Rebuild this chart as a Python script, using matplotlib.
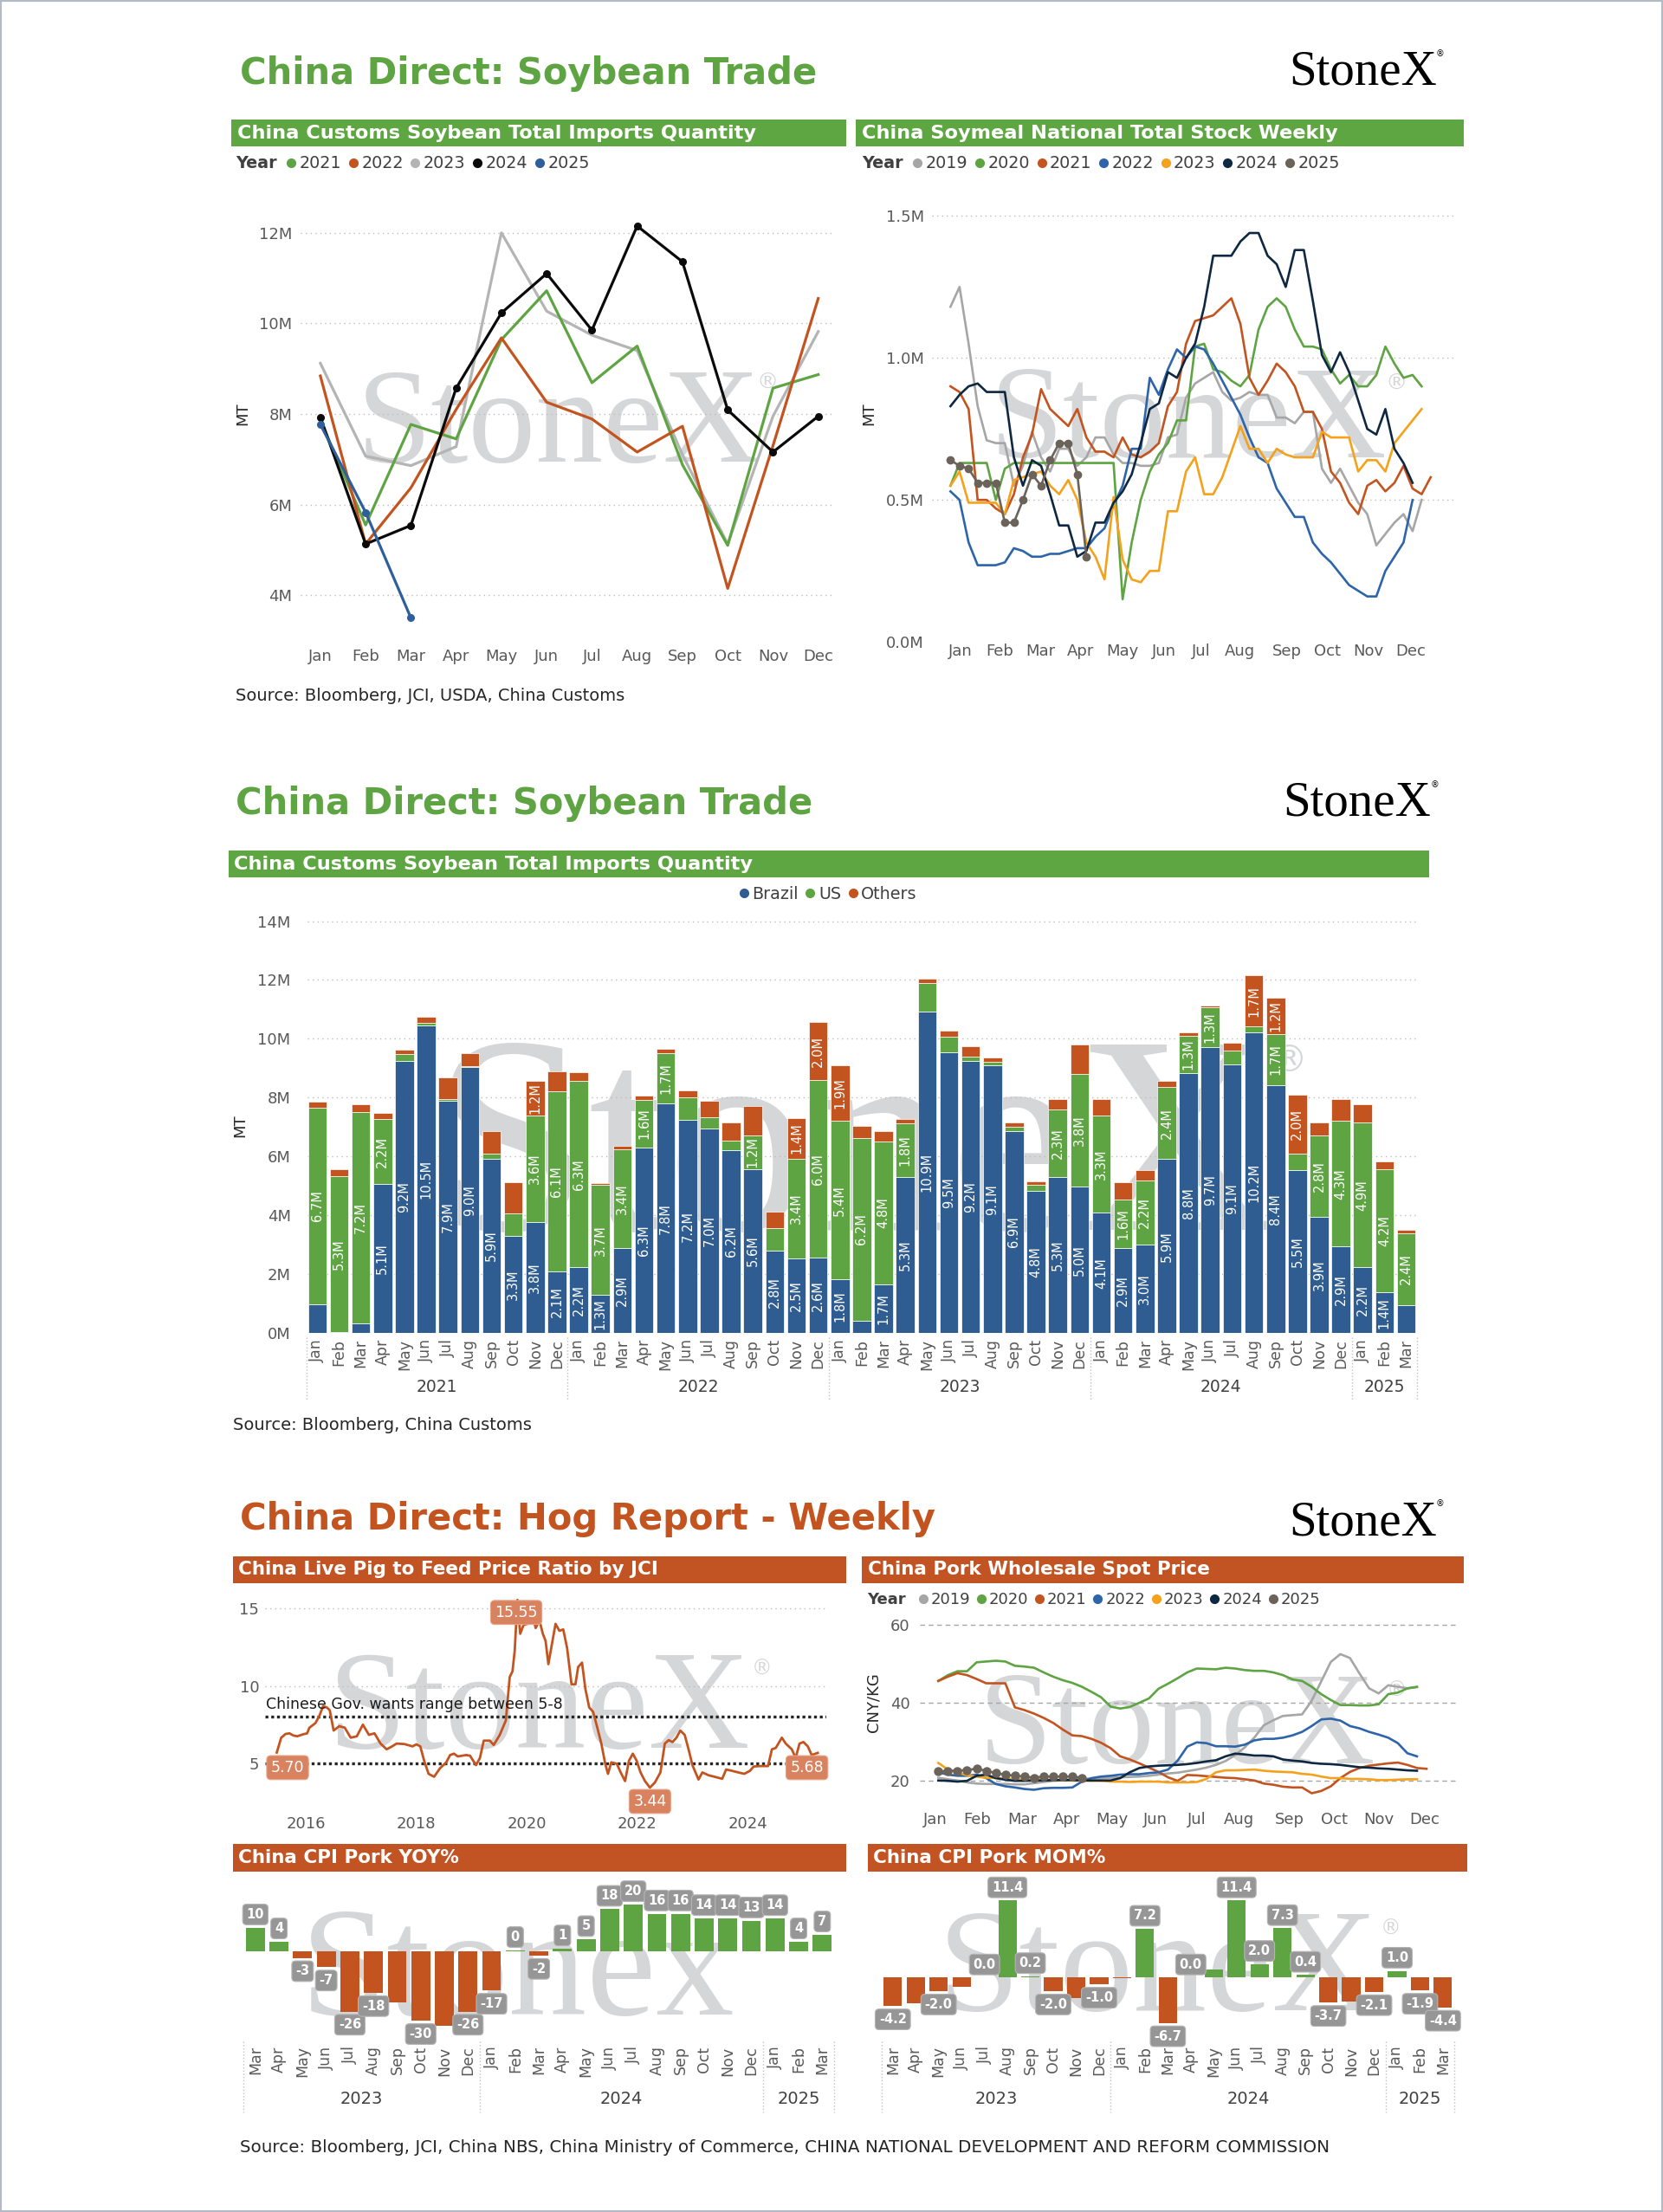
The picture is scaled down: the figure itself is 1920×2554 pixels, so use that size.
import numpy as np
import matplotlib
matplotlib.use('Agg')
import matplotlib.pyplot as plt
from matplotlib.lines import Line2D
from matplotlib.patches import Rectangle
from matplotlib.ticker import FuncFormatter
import matplotlib.transforms as mtrans

plt.rcParams['font.family'] = ['DejaVu Sans']

GREEN = '#5FA443'
ORANGE = '#C4541F'
HDR_GREEN = '#5EA641'
HDR_ORANGE = '#C25424'
BR_BLUE = '#2F5D91'
TICK = '#595959'
WM = '#D5D6D8'

months = ['Jan', 'Feb', 'Mar', 'Apr', 'May', 'Jun', 'Jul', 'Aug', 'Sep', 'Oct', 'Nov', 'Dec']

# ---------------- soybean imports by year (million t) ----------------
imp_years = ['2021', '2022', '2023', '2024', '2025']
imp_2021 = [7.86, 5.55, 7.77, 7.45, 9.64, 10.72, 8.69, 9.50, 6.88, 5.10, 8.57, 8.87]
imp_2022 = [8.84, 5.13, 6.37, 8.10, 9.68, 8.26, 7.89, 7.16, 7.73, 4.15, 7.30, 10.55]
imp_2023 = [9.12, 7.07, 6.86, 7.28, 12.00, 10.27, 9.74, 9.40, 7.10, 5.13, 7.95, 9.82]
imp_2024 = [7.93, 5.13, 5.54, 8.57, 10.23, 11.10, 9.85, 12.15, 11.36, 8.09, 7.16, 7.95]
imp_2025 = [7.77, 5.83, 3.50]

# ---------------- soymeal stock weekly (million t) ----------------
sm_years = ['2019', '2020', '2021', '2022', '2023', '2024', '2025']
sm_2019 = [1.18, 1.25, 1.05, 0.83, 0.71, 0.70, 0.70, 0.55, 0.62, 0.74, 0.65, 0.60, 0.68, 0.68, 0.62, 0.65,
           0.72, 0.72, 0.66, 0.63, 0.63, 0.62, 0.62, 0.63, 0.72, 0.73, 0.86, 0.91, 0.93, 0.95, 0.88, 0.85,
           0.86, 0.88, 0.87, 0.87, 0.79, 0.79, 0.77, 0.81, 0.81, 0.61, 0.56, 0.61, 0.55, 0.49, 0.45, 0.34,
           0.38, 0.42, 0.45, 0.39, 0.50]
sm_2020 = [0.55, 0.63, 0.63, 0.63, 0.63, 0.50, 0.61, 0.63, 0.63, 0.63, 0.63, 0.63, 0.63, 0.63, 0.63, 0.63,
           0.63, 0.63, 0.63, 0.15, 0.35, 0.50, 0.60, 0.66, 0.70, 0.78, 0.78, 1.04, 1.05, 0.96, 0.95, 0.92,
           0.90, 0.94, 1.10, 1.18, 1.21, 1.18, 1.10, 1.04, 1.04, 1.03, 0.96, 0.91, 0.94, 0.90, 0.90, 0.94,
           1.04, 0.98, 0.93, 0.94, 0.90]
sm_2021 = [0.90, 0.88, 0.82, 0.50, 0.50, 0.47, 0.45, 0.52, 0.65, 0.73, 0.89, 0.82, 0.79, 0.76, 0.82, 0.72,
           0.67, 0.67, 0.65, 0.72, 0.66, 0.65, 0.67, 0.70, 0.83, 0.88, 1.05, 1.13, 1.14, 1.15, 1.18, 1.21,
           1.12, 0.93, 0.87, 0.92, 0.98, 0.95, 0.90, 0.81, 0.81, 0.75, 0.60, 0.56, 0.49, 0.45, 0.55, 0.57,
           0.53, 0.56, 0.62, 0.54, 0.52, 0.58]
sm_2022 = [0.53, 0.50, 0.35, 0.27, 0.27, 0.27, 0.28, 0.33, 0.32, 0.30, 0.30, 0.31, 0.31, 0.32, 0.33, 0.33,
           0.37, 0.40, 0.48, 0.55, 0.68, 0.68, 0.93, 0.87, 0.96, 1.03, 1.00, 1.04, 1.03, 0.98, 0.92, 0.86,
           0.80, 0.72, 0.65, 0.63, 0.54, 0.49, 0.44, 0.44, 0.35, 0.31, 0.28, 0.24, 0.20, 0.18, 0.16, 0.16,
           0.25, 0.30, 0.35, 0.50]
sm_2023 = [0.55, 0.60, 0.49, 0.49, 0.49, 0.49, 0.45, 0.57, 0.58, 0.59, 0.60, 0.55, 0.52, 0.57, 0.50, 0.35,
           0.30, 0.22, 0.51, 0.29, 0.22, 0.21, 0.25, 0.25, 0.46, 0.46, 0.60, 0.65, 0.52, 0.52, 0.58, 0.67,
           0.76, 0.68, 0.68, 0.63, 0.68, 0.66, 0.65, 0.65, 0.65, 0.74, 0.72, 0.72, 0.72, 0.60, 0.64, 0.64,
           0.60, 0.70, 0.74, 0.78, 0.82]
sm_2024 = [0.83, 0.87, 0.90, 0.91, 0.88, 0.88, 0.88, 0.65, 0.55, 0.64, 0.62, 0.52, 0.41, 0.41, 0.30, 0.32,
           0.42, 0.42, 0.49, 0.53, 0.59, 0.70, 0.82, 0.84, 0.95, 0.93, 1.00, 1.05, 1.18, 1.36, 1.36, 1.36,
           1.41, 1.44, 1.44, 1.36, 1.33, 1.25, 1.38, 1.38, 1.20, 1.01, 0.95, 1.02, 0.95, 0.85, 0.75, 0.73,
           0.82, 0.68, 0.63, 0.56]
sm_2025 = [0.64, 0.62, 0.61, 0.56, 0.56, 0.56, 0.42, 0.42, 0.50, 0.59, 0.55, 0.64, 0.70, 0.70, 0.59, 0.30]
sm_month_weeks = [2.1, 6.4, 10.9, 15.4, 20.0, 24.6, 28.7, 32.9, 38.1, 42.6, 47.1, 51.8]

# ---------------- imports by origin, Jan 2021 - Mar 2025 (million t) ----------------
origin_brazil = [0.99, 0.03, 0.32, 5.07, 9.24, 10.46, 7.89, 9.04, 5.93, 3.30, 3.78, 2.11,
                 2.23, 1.29, 2.88, 6.30, 7.80, 7.24, 6.96, 6.22, 5.57, 2.80, 2.53, 2.56,
                 1.82, 0.41, 1.66, 5.30, 10.93, 9.54, 9.24, 9.10, 6.87, 4.82, 5.30, 4.98,
                 4.09, 2.90, 3.02, 5.92, 8.83, 9.73, 9.13, 10.23, 8.43, 5.53, 3.94, 2.94,
                 2.23, 1.38, 0.96]
origin_us = [6.68, 5.29, 7.18, 2.20, 0.23, 0.07, 0.05, 0.02, 0.17, 0.77, 3.60, 6.10,
             6.34, 3.74, 3.36, 1.63, 1.72, 0.78, 0.38, 0.31, 1.16, 0.78, 3.39, 6.03,
             5.39, 6.23, 4.84, 1.83, 0.97, 0.54, 0.15, 0.11, 0.15, 0.21, 2.29, 3.84,
             3.30, 1.63, 2.18, 2.44, 1.27, 1.33, 0.47, 0.20, 1.74, 0.56, 2.79, 4.27,
             4.92, 4.20, 2.44]
origin_others = [0.20, 0.25, 0.28, 0.20, 0.15, 0.21, 0.74, 0.45, 0.77, 1.05, 1.20, 0.67,
                 0.29, 0.07, 0.12, 0.15, 0.15, 0.23, 0.55, 0.64, 1.00, 0.56, 1.40, 1.97,
                 1.90, 0.40, 0.37, 0.14, 0.15, 0.21, 0.37, 0.17, 0.15, 0.14, 0.35, 1.00,
                 0.55, 0.60, 0.35, 0.21, 0.13, 0.07, 0.26, 1.72, 1.23, 2.00, 0.44, 0.74,
                 0.63, 0.25, 0.10]
origin_months = months * 4 + months[:3]
origin_groups = [('2021', 0, 11), ('2022', 12, 23), ('2023', 24, 35), ('2024', 36, 47), ('2025', 48, 50)]

# ---------------- live pig to feed price ratio ----------------
pig_ratio = [(2015.47, 5.70), (2015.55, 6.66), (2015.63, 6.90), (2015.70, 6.94), (2015.77, 6.80),
             (2015.84, 6.75), (2015.95, 6.88), (2016.02, 6.94), (2016.06, 7.30), (2016.17, 7.60),
             (2016.24, 8.05), (2016.31, 8.70), (2016.38, 8.60), (2016.43, 8.43), (2016.50, 7.12),
             (2016.60, 7.40), (2016.70, 7.31), (2016.81, 6.66), (2016.92, 6.75), (2017.03, 7.50),
             (2017.14, 6.84), (2017.24, 6.94), (2017.35, 6.28), (2017.46, 5.91), (2017.56, 6.10),
             (2017.64, 6.28), (2017.78, 6.25), (2017.93, 6.10), (2018.00, 6.23), (2018.07, 6.10),
             (2018.14, 5.17), (2018.22, 4.33), (2018.32, 4.14), (2018.43, 4.70), (2018.54, 5.07),
             (2018.61, 5.54), (2018.68, 5.63), (2018.75, 5.45), (2018.90, 5.54), (2018.97, 5.50),
             (2019.08, 4.89), (2019.15, 5.35), (2019.22, 6.47), (2019.33, 6.47), (2019.40, 6.19),
             (2019.51, 6.84), (2019.62, 7.77), (2019.69, 10.57), (2019.74, 10.94), (2019.78, 12.24),
             (2019.83, 15.55), (2019.88, 13.36), (2019.94, 13.92), (2020.01, 14.00), (2020.09, 14.76),
             (2020.16, 13.73), (2020.23, 14.20), (2020.29, 13.36), (2020.34, 12.90), (2020.39, 11.40),
             (2020.45, 12.60), (2020.52, 14.00), (2020.59, 13.55), (2020.66, 13.64), (2020.73, 12.43),
             (2020.81, 10.10), (2020.88, 10.10), (2020.93, 11.22), (2021.00, 11.50), (2021.06, 9.82),
             (2021.13, 8.61), (2021.20, 8.33), (2021.27, 7.40), (2021.35, 6.28), (2021.42, 4.98),
             (2021.47, 4.33), (2021.53, 5.07), (2021.63, 4.98), (2021.70, 4.42), (2021.78, 3.86),
             (2021.85, 5.17), (2021.92, 5.63), (2021.99, 5.17), (2022.06, 4.42), (2022.14, 3.86),
             (2022.23, 3.44), (2022.32, 3.77), (2022.42, 4.42), (2022.50, 6.28), (2022.57, 6.50),
             (2022.64, 6.38), (2022.71, 6.66), (2022.78, 7.12), (2022.86, 6.84), (2022.93, 5.91),
             (2023.00, 4.89), (2023.11, 3.96), (2023.18, 4.42), (2023.29, 4.24), (2023.40, 4.14),
             (2023.54, 4.01), (2023.61, 4.61), (2023.72, 4.52), (2023.83, 4.42), (2023.94, 4.33),
             (2024.04, 4.52), (2024.11, 4.80), (2024.22, 4.83), (2024.37, 4.83), (2024.44, 5.91),
             (2024.51, 6.00), (2024.62, 6.66), (2024.69, 6.28), (2024.80, 5.91), (2024.87, 5.35),
             (2024.94, 6.28), (2025.01, 6.38), (2025.09, 6.10), (2025.16, 5.54), (2025.23, 5.63),
             (2025.27, 5.68)]
pig_years = [2016, 2018, 2020, 2022, 2024]

# ---------------- pork wholesale price weekly (CNY/kg) ----------------
pk_years = ['2019', '2020', '2021', '2022', '2023', '2024', '2025']
pk_2019 = [20.7, 20.3, 20.0, 19.5, 19.2, 19.1, 19.1, 19.1, 19.0, 19.0, 19.3, 19.6, 19.9, 20.1, 20.3, 20.4,
           20.5, 20.6, 20.7, 20.8, 20.9, 21.0, 21.2, 21.5, 21.8, 22.0, 22.4, 22.8, 23.3, 24.0, 25.0, 26.5,
           28.5, 31.0, 34.2, 35.5, 36.6, 36.8, 37.0, 40.5, 45.5, 50.5, 52.5, 51.5, 47.5, 43.7, 42.4, 44.5,
           44.1, 43.7, 44.0]
pk_2020 = [45.6, 47.1, 48.1, 48.1, 50.4, 50.6, 50.8, 50.6, 49.5, 49.3, 49.0, 47.8, 46.7, 45.8, 45.1, 44.1,
           42.8, 41.4, 39.0, 38.5, 38.9, 40.0, 41.1, 43.6, 44.9, 46.3, 47.8, 48.8, 48.7, 48.6, 49.0, 48.8,
           48.4, 48.2, 48.2, 47.8, 47.1, 46.0, 45.6, 44.1, 42.2, 40.7, 39.4, 39.4, 39.3, 39.3, 39.6, 42.2,
           42.6, 43.7, 44.1]
pk_2021 = [45.6, 46.7, 47.6, 47.1, 46.1, 45.0, 45.0, 45.0, 38.8, 38.1, 37.2, 36.1, 34.8, 33.1, 31.6, 31.4,
           30.7, 29.7, 28.3, 26.2, 25.4, 24.4, 23.3, 22.2, 20.8, 19.9, 21.4, 21.3, 21.1, 20.9, 20.7, 20.6,
           20.3, 20.0, 19.2, 18.9, 18.4, 18.2, 18.2, 16.7, 17.3, 18.5, 20.6, 22.2, 23.2, 23.8, 24.1, 24.4,
           24.6, 24.0, 23.2, 23.0]
pk_2022 = [22.1, 21.5, 21.2, 21.2, 21.5, 20.6, 19.1, 18.5, 18.2, 17.8, 17.6, 18.0, 18.1, 18.1, 18.2, 19.7,
           20.6, 21.0, 21.2, 21.5, 21.6, 21.6, 21.9, 22.1, 22.8, 25.1, 28.7, 29.8, 29.6, 28.8, 28.8, 28.7,
           29.2, 30.3, 30.7, 30.7, 31.0, 31.6, 32.5, 34.0, 35.7, 35.9, 35.4, 34.0, 33.4, 32.5, 31.8, 31.0,
           29.6, 27.0, 26.2]
pk_2023 = [24.5, 22.8, 22.1, 21.3, 21.0, 20.7, 20.6, 20.4, 20.4, 20.2, 20.2, 20.1, 20.2, 20.0, 20.0, 19.9,
           19.9, 19.9, 19.7, 19.7, 19.6, 19.7, 19.7, 19.7, 19.5, 19.5, 19.5, 19.6, 20.4, 22.1, 22.6, 22.6,
           22.7, 22.8, 22.5, 22.3, 22.2, 22.1, 21.7, 21.5, 21.0, 20.6, 20.6, 20.4, 20.4, 20.3, 20.1, 20.1,
           20.2, 20.3, 20.3]
pk_2024 = [20.0, 19.9, 19.7, 19.9, 21.2, 21.5, 20.6, 20.2, 19.9, 19.9, 20.0, 20.0, 20.1, 20.1, 20.1, 20.0,
           20.0, 20.0, 20.0, 20.6, 22.1, 23.2, 23.6, 23.8, 23.9, 24.0, 24.2, 24.5, 24.9, 25.2, 26.2, 26.9,
           26.7, 26.4, 26.4, 26.2, 25.4, 25.1, 24.9, 24.5, 24.3, 24.2, 24.0, 23.7, 23.4, 23.3, 23.1, 23.0,
           22.8, 22.6, 22.5]
pk_2025 = [22.3, 22.5, 22.5, 22.7, 23.0, 22.5, 21.9, 21.5, 21.2, 21.0, 20.7, 21.0, 21.0, 21.0, 21.0, 20.7]
pk_month_weeks = [0.67, 5.1, 9.8, 14.4, 19.1, 23.7, 28.0, 32.4, 37.7, 42.4, 47.0, 51.8]

# ---------------- CPI pork, Mar 2023 - Mar 2025 ----------------
cpi_months = months[2:] + months + months[:3]
cpi_groups = [('2023', 0, 9), ('2024', 10, 21), ('2025', 22, 24)]
cpi_yoy = [10, 4, -3, -7, -26, -18, -22, -30, -32, -26, -17, 0.3, -2, 1, 5, 18, 20, 16, 16, 14, 14, 13, 14, 4, 7]
cpi_mom = [-4.2, -3.8, -2.0, -1.3, 0.0, 11.4, 0.2, -2.0, -3.0, -1.0, -0.1, 7.2, -6.7, 0.0, 1.2, 11.4, 2.0,
           7.3, 0.4, -3.7, -3.5, -2.1, 1.0, -1.9, -4.4]
yoy_hidden = [6, 8]
mom_hidden = [1, 3, 8, 10, 14, 20]

# =====================================================================
W, H = 1179.0, 1568.0
fig = plt.figure(figsize=(19.2, 25.54), dpi=100)


def fx(x):
    return x / W


def fy(y):
    return 1 - y / H


def add_ax(x0, y0, x1, y1, size=13):
    ax = fig.add_axes([fx(x0), fy(y1), (x1 - x0) / W, (y1 - y0) / H])
    ax.set_facecolor('none')
    for sp in ax.spines.values():
        sp.set_visible(False)
    ax.tick_params(length=0, colors=TICK, labelsize=size)
    return ax


def header(x0, y0, x1, y1, text, color, size=16.2):
    fig.patches.append(Rectangle((fx(x0), fy(y1)), (x1 - x0) / W, (y1 - y0) / H,
                                 transform=fig.transFigure, fc=color, ec='none'))
    fig.text(fx(x0 + 4), fy((y0 + y1) / 2), text, color='white', fontsize=size,
             fontweight='bold', va='center', ha='left')


def title(x, y, text, color):
    fig.text(fx(x), fy(y), text, color=color, fontsize=30, fontweight='bold', va='center')


def logo(xc, yb):
    fig.text(fx(xc), fy(yb), 'StoneX', family='Liberation Serif', fontsize=41,
             color='black', ha='center', va='baseline')
    fig.text(fx(xc + 55), fy(yb - 22), '®', fontsize=7, color='black', ha='center', va='center')


def watermark(ax, x, yb, size, word='StoneX', reg=None):
    ax.text(fx(x), fy(yb), word, transform=fig.transFigure, family='Liberation Serif',
            fontsize=size, color=WM, ha='left', va='baseline', zorder=0.3, clip_on=False)
    if reg:
        ax.text(fx(reg[0]), fy(reg[1]), '®', transform=fig.transFigure, fontsize=reg[2],
                color=WM, ha='center', va='center', zorder=0.3, clip_on=False)


def year_legend(x, y, labels, colors, size=13.8):
    fig.text(fx(x), fy(y), 'Year', fontsize=size, fontweight='bold', color='#404040',
             va='center', ha='left')
    hs = [Line2D([], [], ls='none', marker='o', ms=7, mfc=c, mec=c) for c in colors]
    lg = fig.legend(hs, labels, loc='center left', bbox_to_anchor=(fx(x + 36), fy(y)),
                    ncol=len(labels), frameon=False, fontsize=size, handlelength=0.6,
                    handletextpad=0.2, columnspacing=0.4, borderpad=0, borderaxespad=0)
    for t in lg.get_texts():
        t.set_color('#404040')


def year_groups(ax, groups, ylab, y0, y1, size=13.5):
    tr = mtrans.blended_transform_factory(ax.transData, ax.transAxes)
    edges = []
    for name, a, b in groups:
        ax.text((a + b) / 2, ylab, name, transform=tr, ha='center', va='center',
                fontsize=size, color='#404040')
        edges += [a - 0.5, b + 0.5]
    for e in sorted(set(edges)):
        ax.plot([e, e], [y0, y1], transform=tr, ls=':', color='#C0C0C0', lw=1, clip_on=False)


def side_label(x, y, text):
    fig.text(fx(x), fy(y), text, rotation=90, ha='center', va='center', fontsize=13, color='#262626')


# ---------------- section 1 ----------------
title(170, 52, 'China Direct: Soybean Trade', GREEN)
logo(966, 60)
header(164, 85, 600, 104, 'China Customs Soybean Total Imports Quantity', HDR_GREEN)
header(607, 85, 1038, 104, 'China Soymeal National Total Stock Weekly', HDR_GREEN)

imp_colors = [GREEN, ORANGE, '#B4B4B4', '#0A0A0A', '#2E5F9A']
year_legend(167, 116, imp_years, imp_colors)
ax1 = add_ax(213, 130, 591, 455)
watermark(ax1, 253, 327, 112, reg=(544, 271, 18))
for vals, col, z, mk in zip([imp_2021, imp_2022, imp_2023, imp_2024, imp_2025], imp_colors,
                            [3, 3, 2, 4, 5], [False, False, False, True, True]):
    ax1.plot(np.arange(len(vals)), np.array(vals) * 1e6, color=col, lw=2.3, zorder=z,
             marker='o' if mk else None, ms=5.5)
ax1.set_xlim(-0.44, 11.34)
ax1.set_ylim(2.97e6, 13.09e6)
ax1.set_yticks([4e6, 6e6, 8e6, 10e6, 12e6])
ax1.yaxis.set_major_formatter(FuncFormatter(lambda v, p: f'{v / 1e6:.0f}M'))
ax1.set_xticks(range(12))
ax1.set_xticklabels(months)
ax1.tick_params(axis='y', pad=7)
ax1.tick_params(axis='x', pad=6)
ax1.grid(axis='y', ls=(0, (1, 3)), color='#BDBDBD', lw=1)
side_label(172, 293, 'MT')
fig.text(fx(167), fy(493), 'Source: Bloomberg, JCI, USDA, China Customs', fontsize=14,
         color='#262626', va='center')

sm_colors = ['#A6A6A6', GREEN, ORANGE, '#2E64A8', '#F4A11C', '#0E2841', '#6B625A']
year_legend(611, 116, sm_years, sm_colors)
ax2 = add_ax(661, 140, 1031, 455)
watermark(ax2, 702, 324, 110, reg=(990, 272, 18))
for vals, col in zip([sm_2019, sm_2020, sm_2021, sm_2022, sm_2023, sm_2024, sm_2025], sm_colors):
    mk = col == '#6B625A'
    ax2.plot(np.arange(1, len(vals) + 1), np.array(vals) * 1e6, color=col, lw=1.9,
             marker='o' if mk else None, ms=6)
ax2.set_xlim(-1.0, 56.6)
ax2.set_ylim(0, 1.565e6)
ax2.set_yticks([0, 0.5e6, 1.0e6, 1.5e6])
ax2.yaxis.set_major_formatter(FuncFormatter(lambda v, p: f'{v / 1e6:.1f}M'))
ax2.set_xticks(sm_month_weeks)
ax2.set_xticklabels(months)
ax2.tick_params(axis='y', pad=7)
ax2.tick_params(axis='x', pad=1)
ax2.grid(axis='y', ls=(0, (1, 3)), color='#BDBDBD', lw=1)
ax2.get_ygridlines()[0].set_visible(False)
side_label(616, 293, 'MT')

# ---------------- section 2 ----------------
title(167, 570, 'China Direct: Soybean Trade', GREEN)
logo(962, 578)
header(162, 603, 1013, 622, 'China Customs Soybean Total Imports Quantity', HDR_GREEN)
hs = [Line2D([], [], ls='none', marker='o', ms=7, mfc=c, mec=c) for c in [BR_BLUE, GREEN, ORANGE]]
lg = fig.legend(hs, ['Brazil', 'US', 'Others'], loc='center', bbox_to_anchor=(fx(587), fy(634)),
                ncol=3, frameon=False, fontsize=13.8, handlelength=0.6, handletextpad=0.2,
                columnspacing=0.4, borderpad=0, borderaxespad=0)
for t in lg.get_texts():
    t.set_color('#404040')

ax3 = add_ax(218, 640, 1005, 945)
watermark(ax3, 306, 872, 235, reg=(914, 752, 30))
idx = np.arange(len(origin_brazil))
b = np.array(origin_brazil)
u = np.array(origin_us)
o = np.array(origin_others)
for vals, bottom, col in [(b, 0 * b, BR_BLUE), (u, b, GREEN), (o, b + u, ORANGE)]:
    ax3.bar(idx, vals * 1e6, bottom=bottom * 1e6, width=0.86, color=col, edgecolor='white',
            lw=0.5, zorder=2)
    for i, (v, bt) in enumerate(zip(vals, bottom)):
        if v >= 1.15:
            ax3.text(i, (bt + v / 2) * 1e6, f'{v:.1f}M', rotation=90, ha='center', va='center',
                     color='white', fontsize=10.5, zorder=3)
ax3.set_xlim(-0.45, 50.52)
ax3.set_ylim(0, 14.62e6)
ax3.set_yticks(np.arange(0, 15e6, 2e6))
ax3.yaxis.set_major_formatter(FuncFormatter(lambda v, p: f'{v / 1e6:.0f}M'))
ax3.set_xticks(idx)
ax3.set_xticklabels(origin_months, rotation=90, fontsize=12.5)
ax3.tick_params(axis='y', pad=14)
ax3.tick_params(axis='x', pad=5)
ax3.grid(axis='y', ls=(0, (1, 3)), color='#BDBDBD', lw=1)
ax3.set_axisbelow(True)
year_groups(ax3, origin_groups, -0.125, -0.01, -0.155)
side_label(170, 798, 'MT')
fig.text(fx(165), fy(1010), 'Source: Bloomberg, China Customs', fontsize=14, color='#262626',
         va='center')

# ---------------- section 3 ----------------
title(170, 1077, 'China Direct: Hog Report - Weekly', ORANGE)
logo(966, 1088)
header(165, 1103, 600, 1122, 'China Live Pig to Feed Price Ratio by JCI', HDR_ORANGE, 15.5)
header(611, 1103, 1038, 1122, 'China Pork Wholesale Spot Price', HDR_ORANGE, 15.5)

ax4 = add_ax(188, 1128, 586, 1283, 13)
watermark(ax4, 232, 1239, 117, reg=(540, 1183, 17))
pt = np.array([p[0] for p in pig_ratio])
pv = np.array([p[1] for p in pig_ratio])
ax4.plot(pt, pv, color=ORANGE, lw=2.0, zorder=3)
for lvl in [10, 15]:
    ax4.axhline(lvl, ls=(0, (1, 3)), color='#BDBDBD', lw=1, zorder=1)
for lvl in [5, 8]:
    ax4.axhline(lvl, ls=(0, (1, 1)), color='#262626', lw=2.4, zorder=2)
ax4.set_xlim(2015.26, 2025.43)
ax4.set_ylim(2.0, 16.1)
ax4.set_yticks([5, 10, 15])
ax4.set_xticks(pig_years)
ax4.tick_params(axis='y', pad=5)
ax4.tick_params(axis='x', pad=5)
ax4.text(2015.28, 8.82, 'Chinese Gov. wants range between 5-8', fontsize=12.5, color='#1A1A1A',
         va='center', ha='left', zorder=4)
box_kw = dict(boxstyle='round,pad=0.28', fc='#D8825F', ec='#E6A487', lw=0.8)
i_max, i_min = int(np.argmax(pv)), int(np.argmin(pv))
for i, off in [(i_max, (-1, -10.5)), (0, (9, -12.5)), (i_min, (0, -11.5)), (len(pv) - 1, (-9, -12.3))]:
    ax4.annotate(f'{pv[i]:.2f}', xy=(pt[i], pv[i]), xytext=off, textcoords='offset points',
                 ha='center', va='center', color='white', fontsize=12.5, bbox=box_kw, zorder=5)

year_legend(615, 1134, pk_years, sm_colors, 13)
ax5 = add_ax(652, 1145, 1032, 1280, 13)
watermark(ax5, 694, 1250, 110, reg=(990, 1198, 17))
for vals, col in zip([pk_2019, pk_2020, pk_2021, pk_2022, pk_2023, pk_2024, pk_2025], sm_colors):
    mk = col == '#6B625A'
    ax5.plot(np.arange(1, len(vals) + 1), vals, color=col, lw=1.9,
             marker='o' if mk else None, ms=6.5, zorder=3)
ax5.set_xlim(-0.95, 55.04)
ax5.set_ylim(13.5, 62.5)
ax5.set_yticks([20, 40, 60])
ax5.set_xticks(pk_month_weeks)
ax5.set_xticklabels(months)
ax5.tick_params(axis='y', pad=8)
ax5.tick_params(axis='x', pad=5)
ax5.grid(axis='y', ls=(0, (4, 3)), color='#A6A6A6', lw=1)
ax5.set_axisbelow(True)
side_label(619, 1207, 'CNY/KG')

# ---------------- section 4 ----------------
header(165, 1307, 600, 1327, 'China CPI Pork YOY%', HDR_ORANGE, 15.5)
header(615, 1307, 1040, 1327, 'China CPI Pork MOM%', HDR_ORANGE, 15.5)

lab_kw = dict(boxstyle='round,pad=0.3', fc='#969696', ec='#B4B4B4', lw=0.8)


def cpi_chart(box, vals, hidden, fmt, lim, wm):
    ax = add_ax(*box, 12.5)
    watermark(ax, *wm[0], word=wm[1], reg=wm[2])
    n = np.arange(len(vals))
    v = np.array(vals, dtype=float)
    ax.bar(n, v, width=0.8, color=[GREEN if x >= 0 else ORANGE for x in v], zorder=2)
    for i, x in enumerate(v):
        if i in hidden:
            continue
        ax.annotate(format(x, fmt), xy=(i, x), xytext=(0, 11 if x >= 0 else -11),
                    textcoords='offset points', ha='center', va='center', color='white',
                    fontsize=10.5, fontweight='bold', bbox=lab_kw, zorder=4)
    ax.set_xlim(*lim[0])
    ax.set_ylim(*lim[1])
    ax.set_yticks([])
    ax.set_xticks(n)
    ax.set_xticklabels(cpi_months, rotation=90)
    ax.tick_params(axis='x', pad=4)
    year_groups(ax, cpi_groups, -0.35, 0.0, -0.43, 14)
    return ax


cpi_chart((172, 1330, 592, 1447), cpi_yoy, yoy_hidden, '.0f',
          [(-0.54, 24.54), (-38.8, 32.1)], [(213, 1428, 130), 'Stonex', None])
cpi_chart((625, 1330, 1035, 1447), cpi_mom, mom_hidden, '.1f',
          [(-0.49, 24.74), (-9.4, 15.0)], [(665, 1425, 122), 'StoneX', (986, 1367, 17)])

fig.text(fx(170), fy(1522), 'Source: Bloomberg, JCI, China NBS, China Ministry of Commerce, '
         'CHINA NATIONAL DEVELOPMENT AND REFORM COMMISSION', fontsize=14.3, color='#262626',
         va='center')

fig.patches.append(Rectangle((0, 0), 1, 1, transform=fig.transFigure, fill=False,
                             ec='#B3BAC5', lw=3))

fig.savefig('out.png', dpi=100, facecolor='white')
